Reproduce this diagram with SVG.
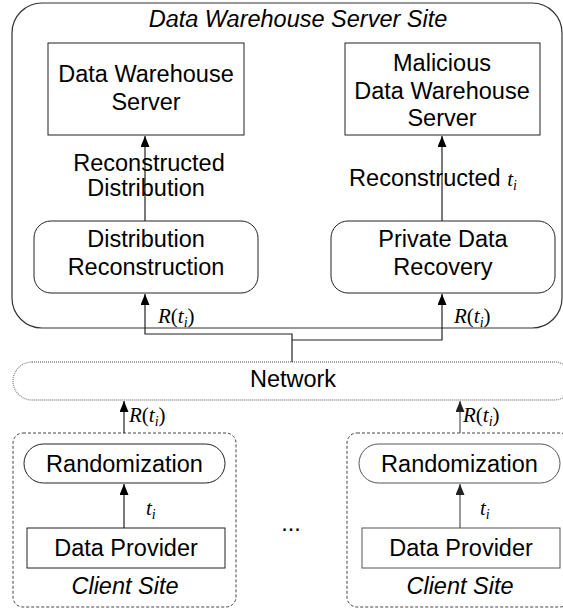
<svg xmlns="http://www.w3.org/2000/svg" width="563" height="608" viewBox="0 0 563 608">
<style>
.t{font-family:"Liberation Sans",Arial,sans-serif;font-size:23.5px;fill:#000;text-anchor:middle}
.it{font-style:italic}
.m{font-family:"Liberation Serif","Times New Roman",serif;font-size:21px;font-style:italic;fill:#000}
.mr{font-style:normal}
.box{fill:#fff;stroke:#222;stroke-width:1}
.gbox{fill:#fff;stroke:#555;stroke-width:1}
.site{fill:none;stroke:#333;stroke-width:1.2}
.client{fill:none;stroke:#444;stroke-width:1;stroke-dasharray:3 2}
.net{fill:#fff;stroke:#888;stroke-width:1.3;stroke-dasharray:1 1}
.c{fill:none;stroke:#222;stroke-width:1.2}
.cg{fill:none;stroke:#555;stroke-width:1.2}
</style>
<defs>
<marker id="ah" markerUnits="userSpaceOnUse" markerWidth="11" markerHeight="9" refX="11" refY="4.5" orient="auto">
<path d="M0,0 L11,4.5 L0,9 z" fill="#000"/>
</marker>
<marker id="ahg" markerUnits="userSpaceOnUse" markerWidth="11" markerHeight="9" refX="11" refY="4.5" orient="auto">
<path d="M0,0 L11,4.5 L0,9 z" fill="#222"/>
</marker>
</defs>

<g id="server-site">
<rect class="site" x="12" y="3" width="550" height="325" rx="30"/>
<text class="t it" x="298" y="27">Data Warehouse Server Site</text>
</g>

<g id="dw-server">
<rect class="box" x="48" y="43" width="196" height="92"/>
<text class="t" x="146" y="82">Data Warehouse</text>
<text class="t" x="146" y="110">Server</text>
</g>

<g id="malicious-server">
<rect class="box" x="345" y="43" width="195" height="92"/>
<text class="t" x="442" y="71">Malicious</text>
<text class="t" x="442" y="99">Data Warehouse</text>
<text class="t" x="442" y="126">Server</text>
</g>

<g id="dist-recon">
<rect class="box" x="34" y="221" width="224" height="72" rx="17"/>
<text class="t" x="146" y="247">Distribution</text>
<text class="t" x="146" y="275">Reconstruction</text>
</g>

<g id="private-recovery">
<rect class="box" x="331" y="221" width="224" height="72" rx="17"/>
<text class="t" x="443" y="247">Private Data</text>
<text class="t" x="443" y="275">Recovery</text>
</g>

<g id="network">
<rect class="net" x="13" y="362" width="560" height="38" rx="19"/>
<text class="t" x="293" y="387">Network</text>
</g>

<g id="client-left">
<rect class="client" x="13" y="433" width="223" height="174" rx="10"/>
<rect class="box" x="24" y="444" width="201" height="39" rx="19.5"/>
<text class="t" x="124.5" y="472">Randomization</text>
<rect class="box" x="27" y="528" width="198" height="40"/>
<text class="t" x="126" y="556">Data Provider</text>
<text class="t it" x="125" y="594">Client Site</text>
</g>

<g id="client-right">
<rect class="client" x="347" y="433" width="223" height="174" rx="10"/>
<rect class="gbox" x="359" y="444" width="201" height="39" rx="19.5"/>
<text class="t" x="459.5" y="472">Randomization</text>
<rect class="gbox" x="362" y="528" width="198" height="40"/>
<text class="t" x="461" y="556">Data Provider</text>
<text class="t it" x="460" y="594">Client Site</text>
</g>

<g id="ellipsis">
<text class="t" x="291" y="531">...</text>
</g>

<g id="connectors">
<path class="c" d="M292,362 V334 H145 V294" marker-end="url(#ah)"/>
<path class="c" d="M292,340 H442 V294" marker-end="url(#ah)"/>
<path class="c" d="M145,221 V136" marker-end="url(#ah)"/>
<path class="c" d="M442,221 V136" marker-end="url(#ah)"/>
<path class="c" d="M124,433 V401" marker-end="url(#ah)"/>
<path class="cg" d="M460,433 V401" marker-end="url(#ahg)"/>
<path class="c" d="M124,528 V484" marker-end="url(#ah)"/>
<path class="cg" d="M460,528 V484" marker-end="url(#ahg)"/>
</g>

<g id="labels">
<text class="t" x="149" y="171">Reconstructed</text>
<text class="t" x="146" y="196">Distribution</text>
<text class="t" x="433" y="186">Reconstructed <tspan class="m">t<tspan font-size="14" dy="4">i</tspan></tspan></text>
<text class="m" x="158" y="323">R<tspan class="mr">(</tspan>t<tspan font-size="14" dy="4">i</tspan><tspan class="mr" dy="-4">)</tspan></text>
<text class="m" x="454" y="323">R<tspan class="mr">(</tspan>t<tspan font-size="14" dy="4">i</tspan><tspan class="mr" dy="-4">)</tspan></text>
<text class="m" x="129" y="422">R<tspan class="mr">(</tspan>t<tspan font-size="14" dy="4">i</tspan><tspan class="mr" dy="-4">)</tspan></text>
<text class="m" x="463" y="422">R<tspan class="mr">(</tspan>t<tspan font-size="14" dy="4">i</tspan><tspan class="mr" dy="-4">)</tspan></text>
<text class="m" x="146" y="515">t<tspan font-size="14" dy="4">i</tspan></text>
<text class="m" x="480" y="515">t<tspan font-size="14" dy="4">i</tspan></text>
</g>
</svg>
